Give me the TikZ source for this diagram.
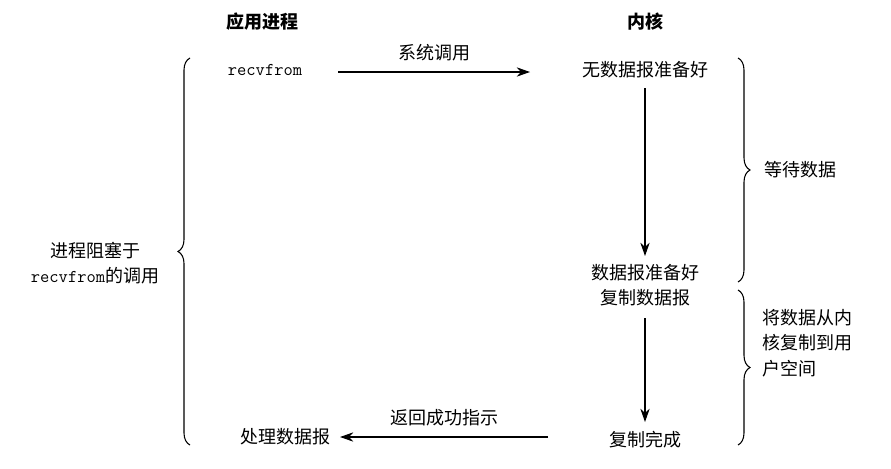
\documentclass[tikz,border=0pt]{standalone}
\usepackage{fontspec}
\newfontfamily\cjk{Noto Sans CJK SC}
\usetikzlibrary{arrows.meta,decorations.pathreplacing}
\begin{document}
\begin{tikzpicture}[x=0.75pt,y=-0.75pt,
  txt/.style={font=\cjk\fontsize{13.5}{19}\selectfont,inner sep=1pt},
  hd/.style={font=\cjk\bfseries\fontsize{13.5}{16}\selectfont},
  arr/.style={-{Stealth[length=10pt,width=7pt]},line width=0.8pt},
  br/.style={decorate,decoration={brace,amplitude=9pt},line width=0.8pt}]
\useasboundingbox (0,0) rectangle (891,468);
\node[hd] (h1) at (262,22) {应用进程};
\node[hd] (h2) at (645,22) {内核};
\node[txt,font=\ttfamily\fontsize{13.5}{16}\selectfont] (rf) at (265,70) {recvfrom};
\node[txt] (k1) at (645,70) {无数据报准备好};
\node[txt,align=center] (k2) at (645,285) {数据报准备好\\复制数据报};
\node[txt] (k3) at (645,440) {复制完成};
\node[txt] (p) at (285,437) {处理数据报};
\coordinate (a1) at (338,72); \coordinate (a2) at (530,72);
\draw[arr] (a1) -- node[txt,above=7pt] (l1) {系统调用} (a2);
\coordinate (b1) at (548,437); \coordinate (b2) at (340,437);
\draw[arr] (b1) -- node[txt,above=7pt] (l2) {返回成功指示} (b2);
\coordinate (c1) at (645,88); \coordinate (c2) at (645,256);
\draw[arr] (c1) -- (c2);
\coordinate (d1) at (645,318); \coordinate (d2) at (645,422);
\draw[arr] (d1) -- (d2);
\coordinate (L1) at (190,445); \coordinate (L2) at (190,58);
\draw[br] (L1) -- (L2);
\node[txt,align=center] (lt) at (95,263) {进程阻塞于\\{\ttfamily recvfrom}的调用};
\coordinate (R1) at (738,58); \coordinate (R2) at (738,282);
\draw[br] (R1) -- (R2);
\node[txt] (rt1) at (800,170) {等待数据};
\coordinate (S1) at (738,290); \coordinate (S2) at (738,445);
\draw[br] (S1) -- (S2);
\node[txt,align=left] (rt2) at (807,343) {将数据从内\\核复制到用\\户空间};
\end{tikzpicture}
\end{document}
